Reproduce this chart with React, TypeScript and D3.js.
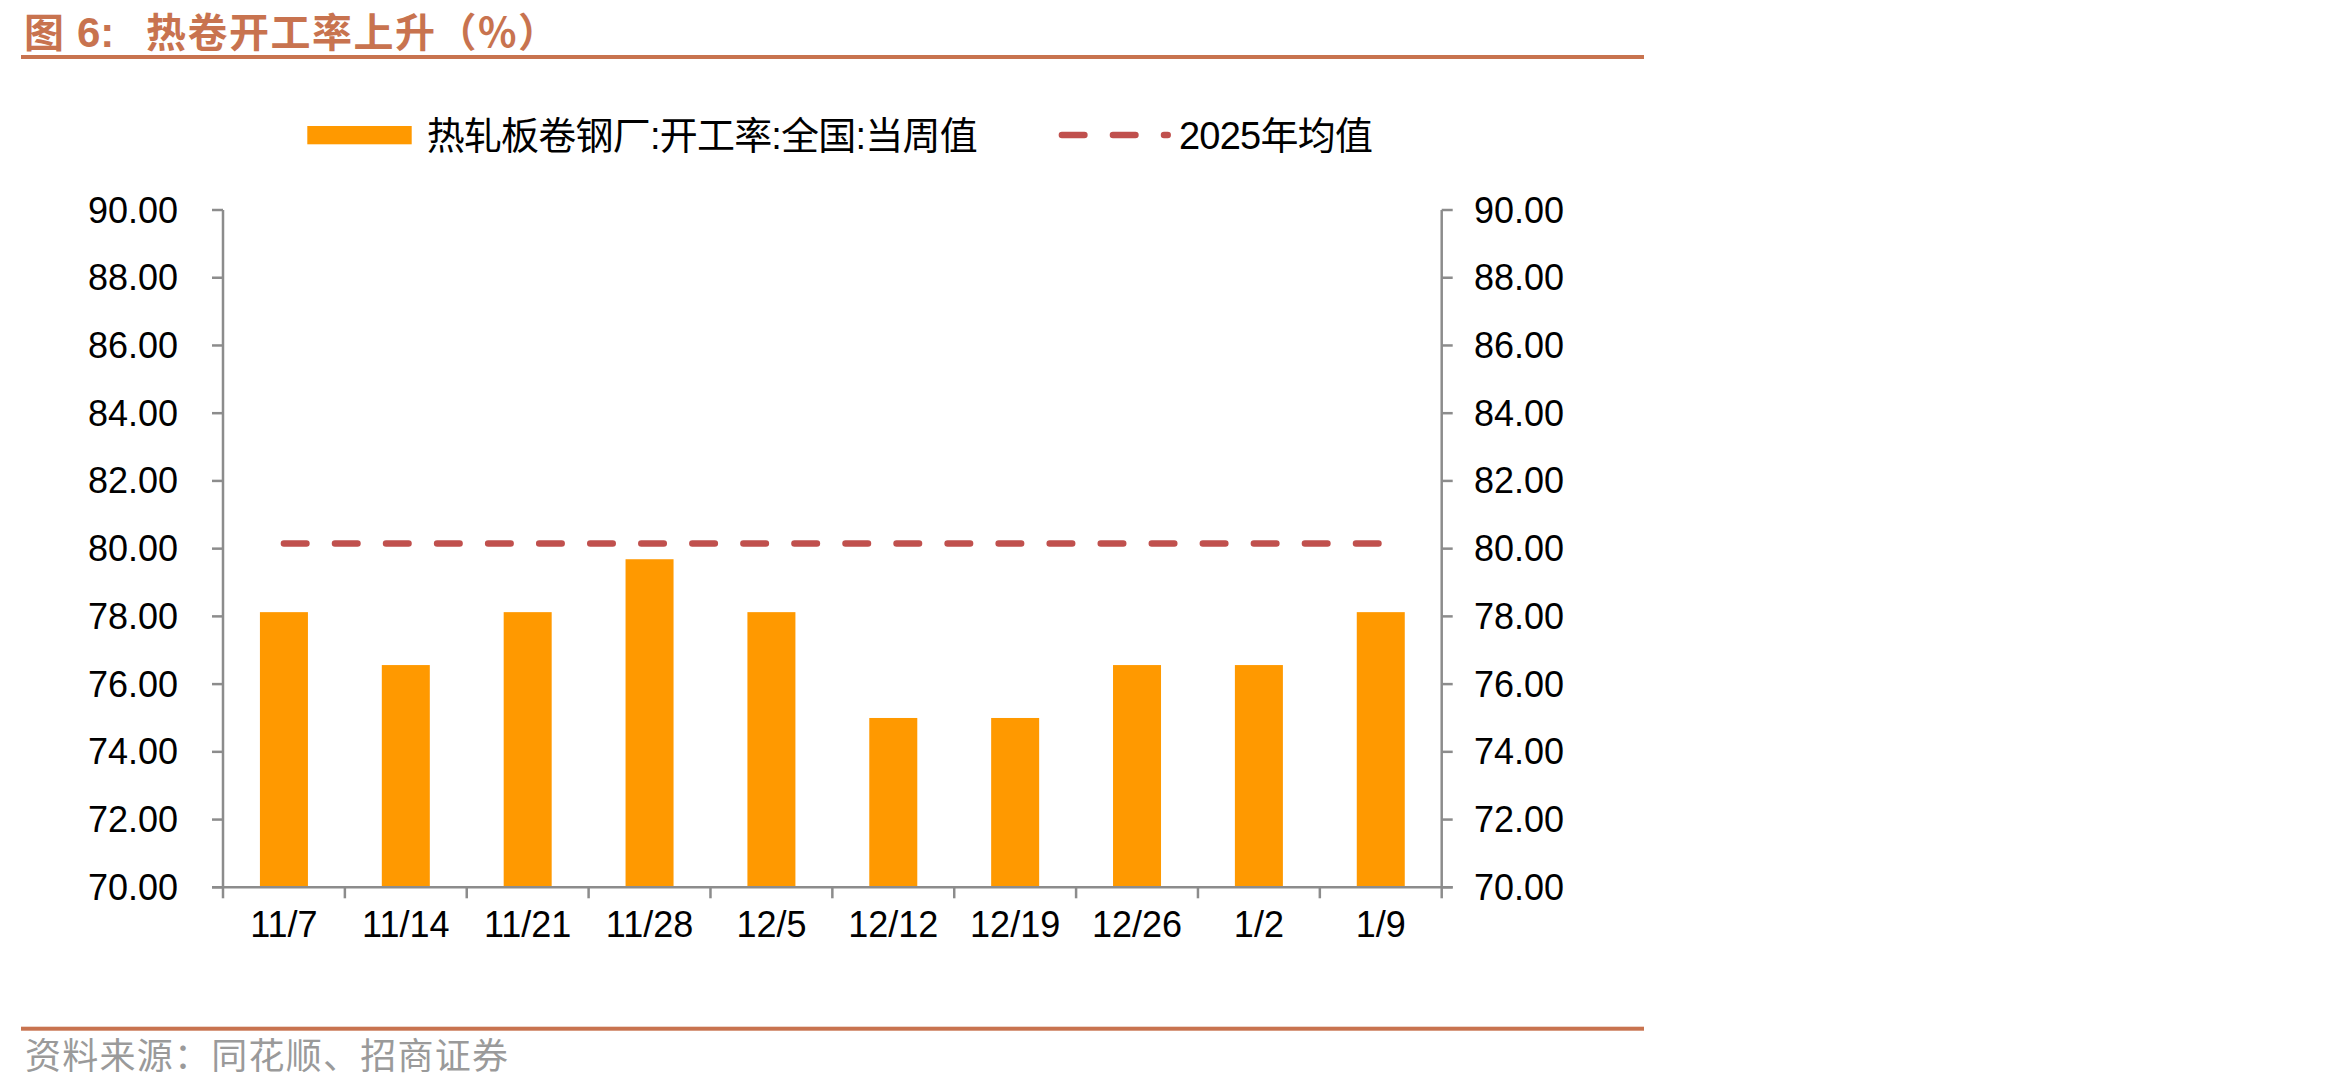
import React from 'react';
import * as d3 from 'd3';

// Weekly categories (week-ending dates)
const categories = ['11/7', '11/14', '11/21', '11/28', '12/5', '12/12', '12/19', '12/26', '1/2', '1/9'];
// 热轧板卷钢厂:开工率:全国:当周值 (%)
const weeklyRate = [78.125, 76.5625, 78.125, 79.6875, 78.125, 75.0, 75.0, 76.5625, 76.5625, 78.125];
// 2025 average (%)
const avg2025 = 80.15;
const yTicks = [70, 72, 74, 76, 78, 80, 82, 84, 86, 88, 90];
const seriesNames = ['热轧板卷钢厂:开工率:全国:当周值', '2025年均值'];
const titleParts = ['图', '6:', '热卷开工率上升（%）'];
const sourceText = '资料来源：同花顺、招商证券';

const W = 2350;
const H = 1088;
const plotLeft = 223;
const plotRight = 1441.7;
const plotTop = 210;
const plotBottom = 887.3;

const BAR = '#FF9900';
const AVG = '#C0504D';
const AXIS = '#8C8C8C';
const ACCENT = '#C8734F';
const LATIN = '"Liberation Sans", Arial, "Noto Sans CJK SC", sans-serif';
const CJK = '"Noto Sans CJK SC", "Liberation Sans", sans-serif';

export default function App() {
  const pad = 1 - 48 / ((plotRight - plotLeft) / categories.length);
  const x = d3
    .scaleBand<string>()
    .domain(categories)
    .range([plotLeft, plotRight])
    .paddingInner(pad)
    .paddingOuter(pad / 2);
  const step = x.step();
  const y = d3.scaleLinear().domain([70, 90]).range([plotBottom, plotTop]);
  const fmt = d3.format('.2f');

  const cx = (c: string) => (x(c) as number) + x.bandwidth() / 2;
  const avgLine = d3
    .line<string>()
    .x((c) => cx(c))
    .y(() => y(avg2025));
  const avgPath = avgLine([categories[0], categories[categories.length - 1]]) as string;

  const dash = '22.5 28.55';
  const boundaries = d3.range(categories.length + 1).map((i) => plotLeft + i * step);

  return (
    <svg
      width={W}
      height={H}
      viewBox={`0 0 ${W} ${H}`}
      style={{ position: 'absolute', left: 0, top: 0, background: '#fff' }}
    >
      <rect x={0} y={0} width={W} height={H} fill="#fff" />

      {/* Title */}
      <g fill={ACCENT} fontWeight="bold" fontSize={40}>
        <text x={24} y={46.5} fontFamily={CJK}>{titleParts[0]}</text>
        <text x={77} y={46.5} fontFamily={LATIN} fontSize={42}>{titleParts[1]}</text>
        <text x={146} y={46.5} fontFamily={CJK} textLength={412} lengthAdjust="spacing">
          {titleParts[2]}
        </text>
      </g>
      <rect x={21} y={55} width={1623} height={4} fill={ACCENT} />

      {/* Legend */}
      <rect x={307.3} y={126} width={104.4} height={18.3} fill={BAR} />
      <text x={426.7} y={149} fontSize={38} fontFamily={LATIN} textLength={551} lengthAdjust="spacing" fill="#000">
        {seriesNames[0]}
      </text>
      <line
        x1={1061.9}
        x2={1167.7}
        y1={135}
        y2={135}
        stroke={AVG}
        strokeWidth={6.5}
        strokeLinecap="round"
        strokeDasharray={dash}
      />
      <text x={1179} y={149} fontSize={38} fontFamily={LATIN} textLength={194} lengthAdjust="spacing" fill="#000">
        {seriesNames[1]}
      </text>

      {/* Bars */}
      {categories.map((c, i) => (
        <rect
          key={c}
          x={x(c)}
          y={y(weeklyRate[i])}
          width={x.bandwidth()}
          height={y(70) - y(weeklyRate[i])}
          fill={BAR}
        />
      ))}

      {/* 2025 average line */}
      <path d={avgPath} fill="none" stroke={AVG} strokeWidth={6.5} strokeLinecap="round" strokeDasharray={dash} />

      {/* Axes */}
      <g stroke={AXIS} strokeWidth={2.5} fill="none">
        <line x1={plotLeft} x2={plotLeft} y1={plotTop} y2={plotBottom} />
        <line x1={plotRight} x2={plotRight} y1={plotTop} y2={plotBottom} />
        <line x1={plotLeft - 11} x2={plotRight + 11} y1={plotBottom} y2={plotBottom} />
        {yTicks.map((t) => (
          <g key={t}>
            <line x1={plotLeft - 11} x2={plotLeft} y1={y(t)} y2={y(t)} />
            <line x1={plotRight} x2={plotRight + 11} y1={y(t)} y2={y(t)} />
          </g>
        ))}
        {boundaries.map((b, i) => (
          <line key={i} x1={b} x2={b} y1={plotBottom} y2={plotBottom + 11} />
        ))}
      </g>

      {/* Axis labels */}
      <g fontFamily={LATIN} fontSize={36} fill="#000">
        {yTicks.map((t) => (
          <g key={t}>
            <text x={178} y={y(t) + 12.5} textAnchor="end">{fmt(t)}</text>
            <text x={1474} y={y(t) + 12.5}>{fmt(t)}</text>
          </g>
        ))}
        {categories.map((c) => (
          <text key={c} x={cx(c)} y={937} textAnchor="middle">{c}</text>
        ))}
      </g>

      {/* Source */}
      <rect x={21} y={1026.7} width={1623} height={4} fill={ACCENT} />
      <text x={25} y={1069} fontSize={36} fontFamily={CJK} fill="#9A9A9A" textLength={483} lengthAdjust="spacing">
        {sourceText}
      </text>
    </svg>
  );
}
